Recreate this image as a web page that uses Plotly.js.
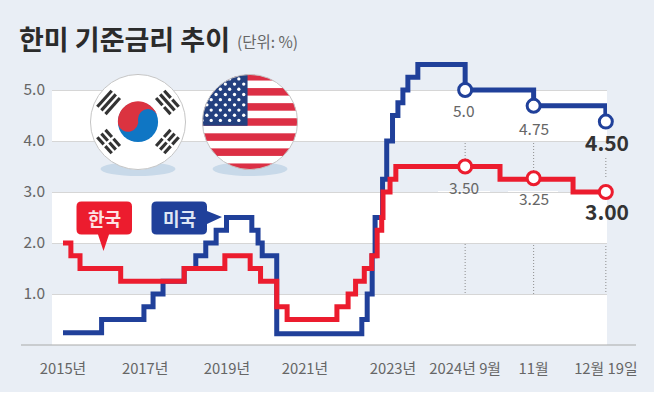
<!DOCTYPE html>
<html><head><meta charset="utf-8">
<script src="https://cdn.plot.ly/plotly-3.0.1.min.js"></script>
<style>html,body{margin:0;padding:0;background:#fff}#c{width:658px;height:396px}.js-line{stroke-linejoin:miter!important}</style>
</head><body><div id="c"></div>
<script>
// Values. x is a position in years along the axis (the last two months are stretched).
const koreaX=[2015,2015.19,2015.41,2016.39,2017.92,2018.90,2019.51,2019.76,2020.15,2020.40,2021.60,2021.87,2022.05,2022.26,2022.44,2022.57,2022.68,2022.71,2022.88,2023.02,2025.53,2027.29,2028.08];
const koreaY=[2,1.75,1.5,1.25,1.5,1.75,1.5,1.25,0.75,0.5,0.75,1,1.25,1.5,1.75,2.25,2.5,3,3.25,3.5,3.25,3,3];
const usX=[2015,2015.93,2016.95,2017.17,2017.41,2017.92,2018.20,2018.44,2018.69,2018.94,2019.55,2019.70,2019.80,2020.15,2022.20,2022.33,2022.45,2022.52,2022.70,2022.80,2022.94,2023.07,2023.19,2023.31,2023.55,2024.69,2026.34,2028.08];
const usY=[0.24,0.5,0.75,1,1.25,1.5,1.75,2,2.25,2.5,2.25,2,1.75,0.22,0.5,1,1.75,2.5,3.25,4,4.5,4.75,5,5.25,5.5,5,4.69,4.38];
const koreaMarkX=[2024.69,2026.34,2028.08], koreaMarkY=[3.5,3.27,3];
const usMarkX=[2024.69,2026.34,2028.08], usMarkY=[5,4.69,4.38];
const koreaNotes=['3.50','3.25','3.00'], usNotes=['5.0','4.75','4.50'];
const tickVals=[2015,2016.98,2018.95,2020.83,2022.95,2024.69,2026.34,2028.08];
const tickText=['2015년','2017년','2019년','2021년','2023년','2024년 9월','11월','12월 19일'];
const tickMarks=[2015,2017,2019,2021,2023];
const yTicks=[1,2,3,4,5];
const yText=['1.0','2.0','3.0','4.0','5.0'];

const W=658,H=396,L=52,R=607,T=40,B=345;
const RED='#ec1c2e',BLUE='#20409a',BG='#e9eef5',WHITE='#ffffff';
const PXY=51;
const px=x=>(x-L)/(R-L), py=y=>(B-y)/(B-T);
const paperRect=(x0,y0,x1,y1,color,layer)=>({type:'rect',xref:'paper',yref:'paper',x0:px(x0),x1:px(x1),y0:py(y0),y1:py(y1),fillcolor:color,line:{width:0},layer:layer||'below'});
const vdot=(x,y0,y1)=>({type:'line',xref:'x',yref:'paper',x0:x,x1:x,y0:py(y0),y1:py(y1),line:{color:'#8d8d8d',width:1,dash:'1px,2px'},layer:'between'});

const shapes=[];
// white bands
[[5,4],[3,2],[1,0]].forEach(b=>shapes.push({type:'rect',xref:'x',yref:'y',x0:2014.735,x1:2028.108,y0:b[1],y1:b[0],fillcolor:WHITE,line:{width:0},layer:'below'}));
// gaps in the grid lines behind the value labels
shapes.push(paperRect(578,139,608,143,BG,'between'));
shapes.push(paperRect(438,191,490,193,WHITE,'between'));
shapes.push(paperRect(508,191,558,193,WHITE,'between'));
// baseline and tick marks
shapes.push({type:'line',xref:'paper',yref:'paper',x0:px(21),x1:px(636),y0:0,y1:0,line:{color:'#a9a9a9',width:1.2},layer:'above'});
tickMarks.forEach(t=>shapes.push({type:'line',xref:'x',yref:'paper',x0:t,x1:t,y0:0,y1:py(341),line:{color:'#a9a9a9',width:1},layer:'between'}));
// dotted drop lines
shapes.push(vdot(2024.69,125,160),vdot(2024.69,202,345),vdot(2026.34,140,171),vdot(2026.34,212,345),vdot(2028.08,158,178),vdot(2028.08,225,345));
// flag shadows
[[138],[250]].forEach(c=>shapes.push({type:'circle',xref:'paper',yref:'paper',x0:px(c[0]-37.5),x1:px(c[0]+37.5),y0:py(176),y1:py(162),fillcolor:'#c8d9e9',line:{width:0},layer:'between'}));
// callouts
function callout(x0,y0,x1,y1,r,tail,color){
  const p=(a,b)=>px(a)+' '+py(b);
  let d='M'+p(x0+r,y0)+'L'+p(x1-r,y0)+'Q'+p(x1,y0)+' '+p(x1,y0+r);
  if(tail.side==='r') d+='L'+p(x1,tail.a)+'L'+p(tail.x,tail.y)+'L'+p(x1,tail.b);
  d+='L'+p(x1,y1-r)+'Q'+p(x1,y1)+' '+p(x1-r,y1);
  if(tail.side==='b') d+='L'+p(tail.b,y1)+'L'+p(tail.x,tail.y)+'L'+p(tail.a,y1);
  d+='L'+p(x0+r,y1)+'Q'+p(x0,y1)+' '+p(x0,y1-r)+'L'+p(x0,y0+r)+'Q'+p(x0,y0)+' '+p(x0+r,y0)+'Z';
  return {type:'path',xref:'paper',yref:'paper',path:d,fillcolor:color,line:{width:0},layer:'above'};
}
shapes.push(callout(76.5,201.5,132,234.5,5,{side:'b',a:98,b:109,x:103.5,y:251},RED));
shapes.push(callout(151.5,201.5,207,234.5,5,{side:'r',a:211,b:224,x:222,y:217},BLUE));
// outer white edge of the graphic
shapes.push(paperRect(654,0,658,396,WHITE,'above'));
shapes.push(paperRect(0,392,658,396,WHITE,'above'));

// flags
function krFlag(){
  const bar=(x,y,rot,pat)=>{
    let s='<g transform="translate('+x+' '+y+') rotate('+rot+')">';
    pat.forEach((broken,i)=>{const yy=-7.2+i*5.6;
      s+=broken?'<rect x="-11" y="'+yy+'" width="9.8" height="3.2" fill="#333"/><rect x="1.2" y="'+yy+'" width="9.8" height="3.2" fill="#333"/>':'<rect x="-11" y="'+yy+'" width="22" height="3.2" fill="#333"/>';});
    return s+'</g>';
  };
  return '<svg xmlns="http://www.w3.org/2000/svg" width="100" height="100" viewBox="0 0 100 100">'+
  '<circle cx="50" cy="50" r="48.5" fill="#fff" stroke="#c4c4c4" stroke-width="1"/>'+
  bar(20,30,-48,[0,0,0])+bar(80,30,48,[1,0,1])+bar(20,70,48,[1,1,1])+bar(80,70,-48,[1,1,1])+
  '<circle cx="50" cy="50" r="20.5" fill="#0f76c4"/>'+
  '<path d="M29.6 52 A20.5 20.5 0 1 1 70.4 47 A10.2 10.2 0 0 0 50 47 A10.2 10.2 0 0 1 29.6 52Z" fill="#db3340"/>'+
  '</svg>';
}
function usFlag(){
  let s='<svg xmlns="http://www.w3.org/2000/svg" width="100" height="100" viewBox="0 0 100 100"><defs><clipPath id="k"><circle cx="50" cy="50" r="48.5"/></clipPath></defs><g clip-path="url(#k)"><rect width="100" height="100" fill="#fff"/>';
  const h=100/13;
  for(let i=0;i<13;i+=2) s+='<rect x="0" y="'+(i*h)+'" width="100" height="'+h+'" fill="#dc2f45"/>';
  s+='<rect x="0" y="0" width="47.5" height="'+(7*h)+'" fill="#24407f"/>';
  for(let r=0;r<9;r++){for(let c=0;c<7;c++){
    const x=(r%2?6:1)+c*9.4,y=6+r*5.3;
    if(x<46) s+='<circle cx="'+x+'" cy="'+y+'" r="1.7" fill="#fff"/>';
  }}
  return s+'</g><circle cx="50" cy="50" r="48.5" fill="none" stroke="#c4c4c4" stroke-width="1"/></svg>';
}
const uri=s=>'data:image/svg+xml;charset=utf-8,'+encodeURIComponent(s);
const flagImg=(src,cx)=>({source:uri(src),xref:'paper',yref:'paper',x:px(cx-49),y:py(122-49),sizex:98/(R-L),sizey:98/(B-T),xanchor:'left',yanchor:'top',sizing:'stretch',layer:'above'});

const F='"Noto Sans CJK KR","Noto Sans",sans-serif';
const note=(x,y,text,size,color,weight)=>({xref:'paper',yref:'paper',x:px(x),y:py(y),text:weight?'<b>'+text+'</b>':text,showarrow:false,xanchor:'center',yanchor:'middle',font:{family:F,size:size,color:color}});
const annotations=[
  {xref:'paper',yref:'paper',x:px(17),y:py(38),text:'<b>한미 기준금리 추이</b>',showarrow:false,xanchor:'left',yanchor:'middle',font:{family:F,size:27,color:'#2b2b2b'}},
  {xref:'paper',yref:'paper',x:px(235),y:py(41),text:'(단위: %)',showarrow:false,xanchor:'left',yanchor:'middle',font:{family:F,size:15.5,color:'#666'}},
  note(104,218,'<b>한국</b>',18,'#fde3e5'),
  note(179,218,'<b>미국</b>',18,'#dfe6f5'),
  note(464,110,usNotes[0],15.5,'#666'),
  note(534,128,usNotes[1],15.5,'#666'),
  note(607,142,usNotes[2],21,'#333',true),
  note(464,187,koreaNotes[0],15.5,'#666'),
  note(534,198,koreaNotes[1],15.5,'#666'),
  note(607,211,koreaNotes[2],21,'#333',true)
];

const data=[
 {x:usX,y:usY,type:'scatter',mode:'lines',line:{color:BLUE,width:5,shape:'hv'},name:'미국',cliponaxis:false},
 {x:koreaX,y:koreaY,type:'scatter',mode:'lines',line:{color:RED,width:5,shape:'hv'},name:'한국',cliponaxis:false},
 {x:usMarkX,y:usMarkY,type:'scatter',mode:'markers',marker:{size:13,color:'#fff',line:{color:BLUE,width:3}},name:'미국',cliponaxis:false},
 {x:koreaMarkX,y:koreaMarkY,type:'scatter',mode:'markers',marker:{size:13,color:'#fff',line:{color:RED,width:3}},name:'한국',cliponaxis:false}
];
const layout={
 width:W,height:H,margin:{l:L,r:W-R,t:T,b:H-B,pad:0},paper_bgcolor:BG,plot_bgcolor:'rgba(0,0,0,0)',showlegend:false,
 xaxis:{range:[2014.735,2028.108],tickmode:'array',tickvals:tickVals,ticktext:tickText,ticklen:0,showgrid:false,zeroline:false,showline:false,
   tickfont:{family:F,size:14.8,color:'#666'},ticklabelstandoff:13,tickangle:0,fixedrange:true},
 yaxis:{range:[0,(B-T)/PXY],tickmode:'array',tickvals:yTicks,ticktext:yText,ticklen:0,showgrid:true,gridcolor:'#d6d6d6',gridwidth:1,zeroline:false,showline:false,
   tickfont:{family:F,size:15.5,color:'#666'},ticklabelstandoff:6,fixedrange:true},
 shapes:shapes,annotations:annotations,
 images:[flagImg(krFlag(),138),flagImg(usFlag(),250)],
 font:{family:F}
};
Plotly.newPlot('c',data,layout,{displayModeBar:false,staticPlot:true});
</script></body></html>
